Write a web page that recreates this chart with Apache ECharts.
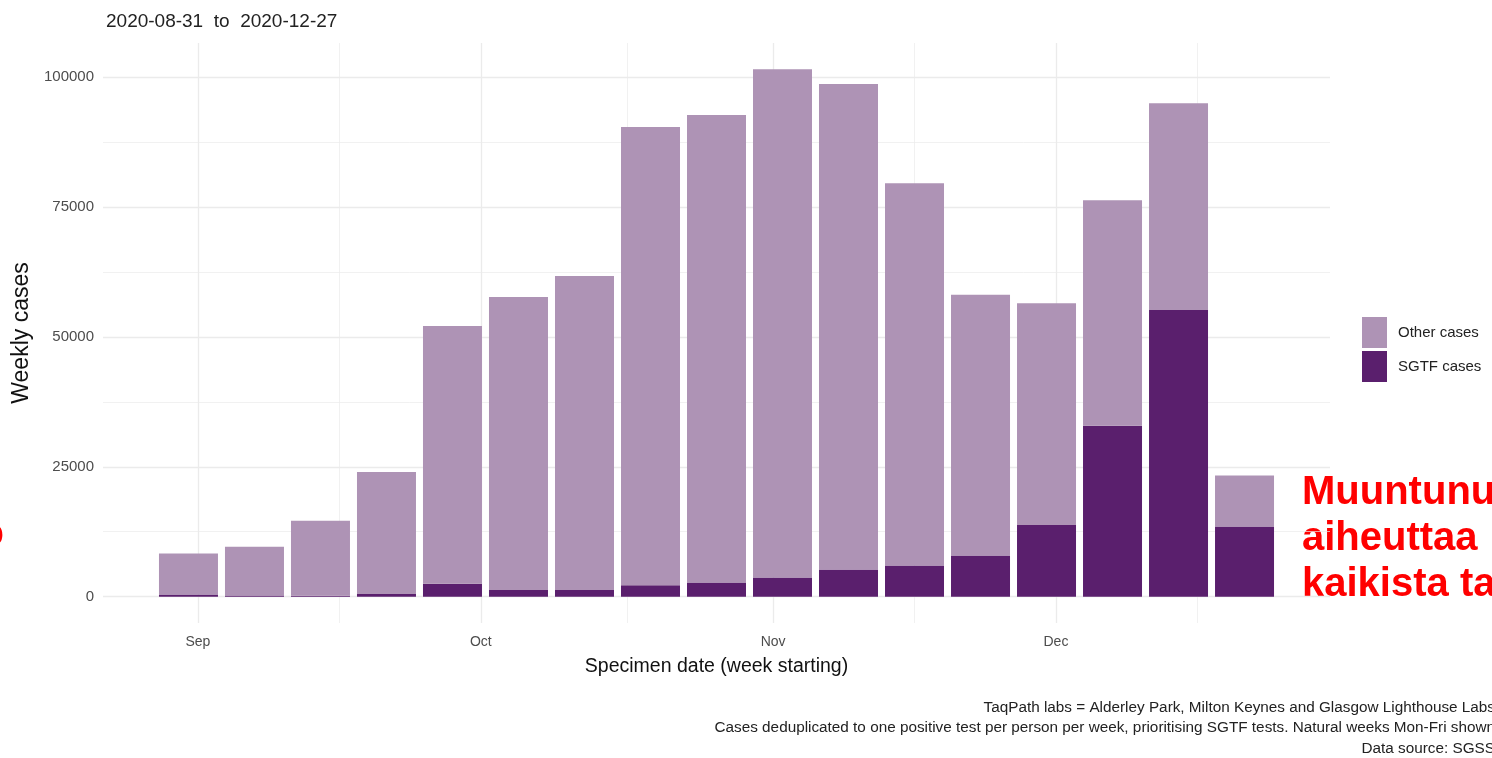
<!DOCTYPE html>
<html>
<head>
<meta charset="utf-8">
<script src="https://cdn.jsdelivr.net/npm/echarts@6/dist/echarts.min.js"></script>
<style>
html,body{margin:0;padding:0;background:#fff;}
#chart{width:1492px;height:758px;}
</style>
</head>
<body>
<div id="chart"></div>
<script>
// ---- data ----
const startDate = '2020-08-31';
const weeks = ['2020-08-31','2020-09-07','2020-09-14','2020-09-21','2020-09-28','2020-10-05','2020-10-12','2020-10-19','2020-10-26','2020-11-02','2020-11-09','2020-11-16','2020-11-23','2020-11-30','2020-12-07','2020-12-14','2020-12-21'];
const sgtfCases  = [400, 200, 150, 500, 2500, 1300, 1300, 2200, 2700, 3700, 5200, 6000, 7900, 13800, 32900, 55200, 13500];
const otherCases = [7900, 9400, 14450, 23500, 49600, 56400, 60400, 88200, 90000, 97800, 93500, 73600, 50200, 42700, 43400, 39800, 9800];
const monthTickDates = ['2020-09-01','2020-10-01','2020-11-01','2020-12-01'];
const monthTickLabels = ['Sep','Oct','Nov','Dec'];
const minorXDates = ['2020-09-16','2020-10-16T12:00:00Z','2020-11-16','2020-12-16'];
const yTicks = [0, 25000, 50000, 75000, 100000];
const yMinor = [12500, 37500, 62500, 87500];
const titleText = '2020-08-31  to  2020-12-27';
const captionLines = [
  'TaqPath labs = Alderley Park, Milton Keynes and Glasgow Lighthouse Labs',
  'Cases deduplicated to one positive test per person per week, prioritising SGTF tests. Natural weeks Mon-Fri shown',
  'Data source: SGSS'
];
const redLines = ['Muuntunu', 'aiheuttaa', 'kaikista ta'];

// ---- helpers ----
const DAY = 86400000;
function ts(s){ const iso = s.length === 10 ? s + 'T00:00:00Z' : s; return Date.parse(iso); }
const t0 = ts(startDate);
function dayOf(s){ return (ts(s) - t0) / DAY; }
const weekDays = weeks.map(dayOf);
const monthDays = monthTickDates.map(dayOf);
const minorDays = minorXDates.map(dayOf);

const totalMax = Math.max(...weeks.map((w,i)=>sgtfCases[i]+otherCases[i]));
const yMin = -totalMax*0.05, yMax = totalMax*1.05;
const xMinDay = -3.15 - 118.3*0.05, xMaxDay = 115.15 + 118.3*0.05;

const gridColor = '#ebebeb';
const gridLines = [];
monthDays.forEach(d=>gridLines.push({xAxis:d, lineStyle:{color:gridColor,width:1.3,type:'solid'}}));
minorDays.forEach(d=>gridLines.push({xAxis:d, lineStyle:{color:gridColor,width:0.7,type:'solid'}}));
yTicks.forEach(v=>gridLines.push({yAxis:v, lineStyle:{color:gridColor,width:1.3,type:'solid'}}));
yMinor.forEach(v=>gridLines.push({yAxis:v, lineStyle:{color:gridColor,width:0.7,type:'solid'}}));

const chart = echarts.init(document.getElementById('chart'), null, {renderer:'canvas'});
const FONT = 'Liberation Sans, Arial, sans-serif';

const option = {
  animation: false,
  backgroundColor: '#ffffff',
  textStyle: {fontFamily: FONT},
  title: {
    text: titleText, left: 101, top: 7,
    textStyle: {fontSize: 19, fontWeight: 'normal', color: '#222222', fontFamily: FONT}
  },
  grid: {left: 103, right: 162, top: 43, bottom: 135, containLabel: false},
  legend: {
    data: ['Other cases','SGTF cases'],
    orient: 'vertical', left: 1362, top: 317, padding: 0,
    itemWidth: 25, itemHeight: 31, itemGap: 3, icon: 'rect',
    textStyle: {fontSize: 15, color: '#222222', fontFamily: FONT, padding: [2,0,0,6]},
    selectedMode: false
  },
  xAxis: {
    type: 'value', min: xMinDay, max: xMaxDay,
    name: 'Specimen date (week starting)', nameLocation: 'middle', nameGap: 34,
    nameTextStyle: {fontSize: 19.5, color: '#111111', fontFamily: FONT},
    axisLine: {show:false}, axisTick: {show:false}, splitLine: {show:false},
    axisLabel: {
      customValues: monthDays, margin: 12, fontSize: 14, color: '#4d4d4d', fontFamily: FONT,
      formatter: function(v){ const i = monthDays.findIndex(d=>Math.abs(d-v)<0.01); return i>=0 ? monthTickLabels[i] : ''; }
    }
  },
  yAxis: {
    type: 'value', min: yMin, max: yMax,
    name: 'Weekly cases', nameLocation: 'middle', nameGap: 70,
    nameTextStyle: {fontSize: 23, color: '#111111', fontFamily: FONT},
    axisLine: {show:false}, axisTick: {show:false}, splitLine: {show:false},
    axisLabel: {
      customValues: yTicks, margin: 9, fontSize: 15, color: '#4d4d4d', fontFamily: FONT,
      formatter: function(v){ return String(Math.round(v)); }
    }
  },
  series: [
    {
      name: 'SGTF cases', type: 'bar', stack: 'total', barWidth: 59, z: 2,
      itemStyle: {color: '#5a1f6d'},
      encode: {x: 1, y: 0},
      data: weekDays.map((d,i)=>[sgtfCases[i], d]),
      markLine: {silent: true, z: 1, symbol: ['none','none'], label: {show:false}, animation:false, data: gridLines}
    },
    {
      name: 'Other cases', type: 'bar', stack: 'total', barWidth: 59, z: 2,
      itemStyle: {color: '#ae93b5'},
      encode: {x: 1, y: 0},
      data: weekDays.map((d,i)=>[otherCases[i], d])
    }
  ],
  graphic: [
    ...captionLines.map((t,i)=>({
      type:'text', right: -3, top: 700 + i*20.5, silent:true,
      style:{text:t, font:'15.3px ' + FONT, fill:'#222222', textAlign:'right'}
    })),
    ...redLines.map((t,i)=>({
      type:'text', x: 1302, y: 473 + i*46, silent:true,
      style:{text:t, font:'bold 40px ' + FONT, fill:'#ff0000', textAlign:'left', textVerticalAlign:'top'}
    })),
    {type:'text', x: 4, y: 515, silent:true,
     style:{text:'o', font:'bold 40px ' + FONT, fill:'#ff0000', textAlign:'right', textVerticalAlign:'top'}}
  ]
};
chart.setOption(option);
</script>
</body>
</html>
